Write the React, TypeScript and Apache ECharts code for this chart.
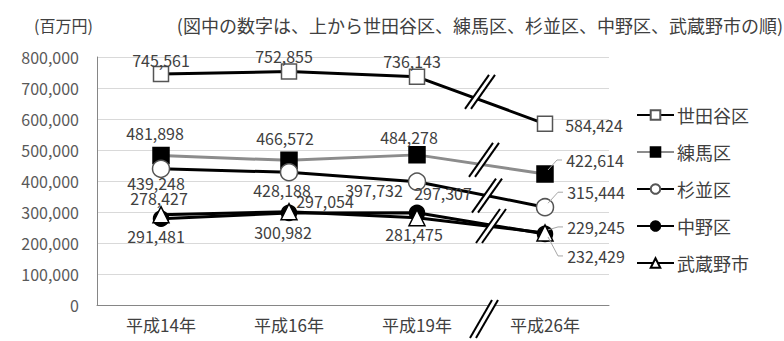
import React, { useEffect, useRef } from "react";
import * as echarts from "echarts";

const categories = ["平成14年", "平成16年", "平成19年", "平成26年"];
const seriesNames = ["世田谷区", "練馬区", "杉並区", "中野区", "武蔵野市"];
const setagaya = [745561, 752855, 736143, 584424];
const nerima = [481898, 466572, 484278, 422614];
const suginami = [439248, 428188, 397732, 315444];
const nakano = [278427, 297054, 297307, 229245];
const musashino = [291481, 300982, 281475, 232429];
const allValues = [setagaya, nerima, suginami, nakano, musashino];

const unitLabel = "(百万円)";
const noteLabel = "(図中の数字は、上から世田谷区、練馬区、杉並区、中野区、武蔵野市の順)";

// label offsets (style only)
const labelOffsets = [
  [[0, -14], [-5, -16], [-5, -16], [49, 1]],
  [[-6, -23], [-4, -22], [-8, -18], [50, -14]],
  [[-5, 14], [-7, 18], [-43, 8], [51, -15]],
  [[-2, -21], [36, -12], [26, -20], [51, -7]],
  [[-5, 21], [-6, 20], [-3, 16], [51, 23]],
];

const FONT = "'Noto Sans CJK JP', 'Noto Sans', sans-serif";

const seriesStyles = [
  { symbol: "rect", size: 15, fill: "#fff", border: "#555", line: "#000", lw: 3 },
  { symbol: "rect", size: 16, fill: "#000", border: "#000", line: "#8c8c8c", lw: 3 },
  { symbol: "circle", size: 17, fill: "#fff", border: "#555", line: "#000", lw: 3 },
  { symbol: "circle", size: 15, fill: "#000", border: "#000", line: "#000", lw: 3 },
  { symbol: "triangle", size: 16, fill: "#fff", border: "#000", line: "#000", lw: 3 },
];

const fmt = (v: number) => v.toLocaleString("en-US");

export default function App() {
  const ref = useRef<HTMLDivElement>(null);
  useEffect(() => {
    document.body.style.margin = "0";
    if (!ref.current) return;
    const chart = echarts.init(ref.current, null, { renderer: "svg" });
    const series = allValues.map((vals, si) => {
      const st = seriesStyles[si];
      return {
        name: seriesNames[si],
        type: "line",
        data: vals.map((v, i) => ({
          value: v,
          label: { offset: labelOffsets[si][i] },
        })),
        symbol: st.symbol,
        symbolSize: st.size,
        showAllSymbol: true,
        lineStyle: { color: st.line, width: st.lw },
        itemStyle: { color: st.fill, borderColor: st.border, borderWidth: 1.5 },
        label: {
          show: true,
          position: "inside",
          align: "center",
          verticalAlign: "middle",
          formatter: (p: any) => fmt(p.value),
          fontSize: 16,
          fontFamily: FONT,
          color: "#404040",
        },
        emphasis: { disabled: true },
        z: 2 + si,
      };
    });
    chart.setOption({
      animation: false,
      backgroundColor: "#fff",
      title: [
        {
          text: unitLabel,
          left: 34,
          top: 17,
          padding: 0,
          textStyle: { fontSize: 16, fontWeight: "normal", color: "#404040", fontFamily: FONT },
        },
        {
          text: noteLabel,
          right: 1,
          top: 16,
          padding: 0,
          textStyle: { fontSize: 18, fontWeight: "normal", color: "#404040", fontFamily: FONT },
        },
      ],
      grid: { left: 97, right: 175, top: 57, bottom: 36, containLabel: false },
      legend: {
        orient: "vertical",
        left: 631,
        top: 101,
        itemWidth: 37,
        itemHeight: 12,
        itemGap: 19,
        textStyle: { fontSize: 18, color: "#404040", fontFamily: FONT, padding: [0, 0, 0, -2] },
        data: seriesNames,
      },
      xAxis: {
        type: "category",
        data: categories,
        axisLine: { lineStyle: { color: "#868686", width: 1 } },
        axisTick: { show: false },
        axisLabel: { fontSize: 17, color: "#404040", fontFamily: FONT, margin: 11 },
      },
      yAxis: {
        type: "value",
        min: 0,
        max: 800000,
        interval: 100000,
        axisLine: { show: true, lineStyle: { color: "#868686", width: 1 } },
        axisTick: { show: false },
        axisLabel: {
          fontSize: 16,
          color: "#595959",
          fontFamily: FONT,
          margin: 18,
          formatter: (v: number) => fmt(v),
        },
        splitLine: { lineStyle: { color: "#d9d9d9", width: 1 } },
      },
      series,
    });

    // break marks and leader lines (decoration derived from data positions)
    const graphics: any[] = [];
    const addBreak = (cx: number, cy: number, hx: number, hy: number, gap: number) => {
      const a = cx - gap / 2;
      const b = cx + gap / 2;
      graphics.push({
        type: "polygon",
        z: 100,
        shape: { points: [[a - hx, cy + hy], [a + hx, cy - hy], [b + hx, cy - hy], [b - hx, cy + hy]] },
        style: { fill: "#fff" },
      });
      graphics.push({
        type: "line",
        z: 101,
        shape: { x1: a - hx, y1: cy + hy, x2: a + hx, y2: cy - hy },
        style: { stroke: "#000", lineWidth: 2 },
      });
      graphics.push({
        type: "line",
        z: 101,
        shape: { x1: b - hx, y1: cy + hy, x2: b + hx, y2: cy - hy },
        style: { stroke: "#000", lineWidth: 2 },
      });
    };
    const px = (si: number, i: number) =>
      chart.convertToPixel({ seriesIndex: si }, [categories[i], allValues[si][i]]) as number[];
    const breakSeries = [
      { si: 0, dx: -1, dy: -8 },
      { si: 1, dx: 3, dy: -5 },
      { si: 2, dx: 6, dy: 0 },
      { si: 3, dx: 10, dy: 1 },
    ];
    breakSeries.forEach(({ si, dx, dy }) => {
      const p2 = px(si, 2);
      const p3 = px(si, 3);
      const t = 0.5 + dx / (p3[0] - p2[0]);
      const cx = p2[0] + (p3[0] - p2[0]) * t;
      const cy = p2[1] + (p3[1] - p2[1]) * t + dy;
      addBreak(cx, cy, 12, 17, 6);
    });
    const a2 = px(0, 2);
    const a3 = px(0, 3);
    const axisY = chart.convertToPixel({ yAxisIndex: 0 }, 0) as number;
    addBreak((a2[0] + a3[0]) / 2 + 3, axisY + 14, 11, 19, 6);

    // leader lines for last-point labels
    [1, 2, 3, 4].forEach((si) => {
      const p = px(si, 3);
      const off = labelOffsets[si][3];
      const lx = p[0] + off[0] - 32;
      const ly = p[1] + off[1];
      graphics.push({
        type: "polyline",
        z: 102,
        shape: { points: [[p[0] + 3, p[1] + (off[1] > 0 ? 4 : -4)], [lx - 6, ly], [lx - 1, ly]] },
        style: { stroke: "#a6a6a6", lineWidth: 1, fill: "none" },
      });
    });
    chart.setOption({ graphic: graphics });

    return () => chart.dispose();
  }, []);
  return <div ref={ref} style={{ width: 784, height: 341 }} />;
}
